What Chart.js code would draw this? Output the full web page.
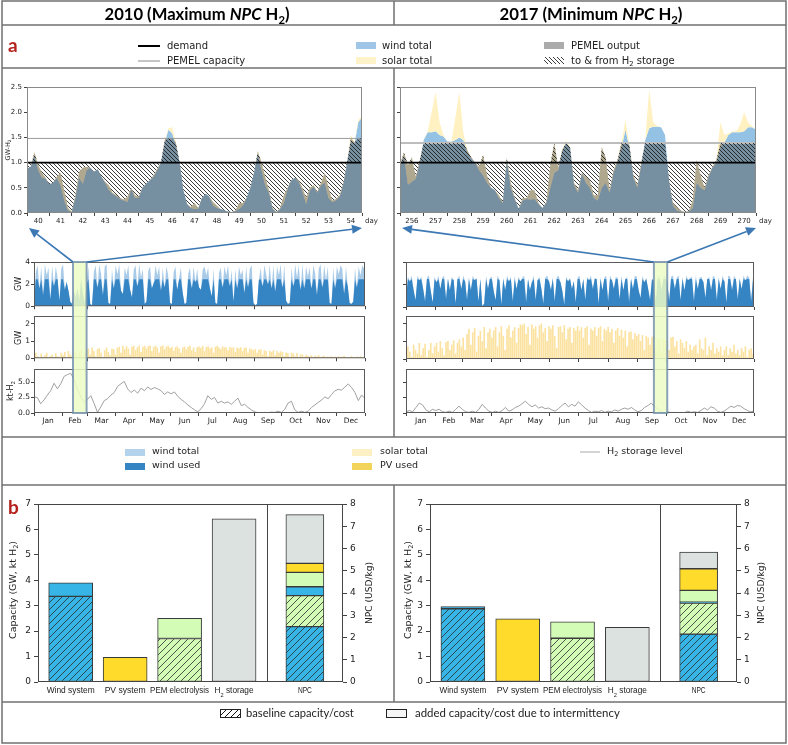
<!DOCTYPE html>
<html><head><meta charset="utf-8">
<script src="https://cdn.jsdelivr.net/npm/chart.js@4.4.1/dist/chart.umd.min.js"></script>
<style>
html,body{margin:0;padding:0;background:#fff;}
#wrap{position:relative;width:788px;height:745px;overflow:hidden;background:#fff;}
canvas{position:absolute;}
</style></head><body><div id="wrap"></div>
<script>
// ---------------- DATA ----------------
// zoom windows (4-hour steps, 15 days)
const zoomDayStart = [40, 256];
const zoomWind2010 = [0.88,0.92,1.15,0.85,0.7,0.68,0.57,0.6,0.7,0.55,
 0.25,0.05,0.02,0.3,0.7,0.58,0.85,0.9,0.82,0.87,
 0.72,0.6,0.45,0.38,0.33,0.28,0.25,0.22,0.48,0.3,
 0.3,0.5,0.58,0.65,0.72,0.85,1.0,1.4,1.65,1.58,
 1.35,1.0,0.45,0.18,0.1,0.08,0.08,0.3,0.38,0.32,
 0.15,0.1,0.08,0.05,0.03,0.02,0.04,0.08,0.15,0.3,
 0.5,0.8,1.18,0.85,0.55,0.4,0.08,0.02,0.08,0.2,
 0.48,0.65,0.7,0.62,0.42,0.18,0.45,0.52,0.4,0.55,
 0.6,0.3,0.22,0.25,0.32,0.58,1.0,1.42,1.38,1.8,1.9];
const zoomWindSolar2010 = [0.88,0.92,1.2,0.95,0.8,0.7,0.57,0.6,0.72,0.8,
 0.45,0.1,0.03,0.35,0.82,0.9,0.92,0.9,0.82,0.87,
 0.72,0.62,0.55,0.4,0.35,0.3,0.27,0.32,0.5,0.35,
 0.32,0.5,0.58,0.65,0.75,0.88,1.0,1.45,1.68,1.7,
 1.4,1.0,0.45,0.18,0.12,0.2,0.1,0.3,0.38,0.32,
 0.22,0.15,0.08,0.05,0.03,0.02,0.05,0.2,0.2,0.3,
 0.5,0.8,1.22,1.0,0.72,0.45,0.1,0.02,0.1,0.35,
 0.5,0.65,0.7,0.65,0.5,0.3,0.5,0.55,0.42,0.6,
 0.8,0.5,0.25,0.28,0.35,0.6,1.0,1.55,1.4,1.85,1.92];
const zoomWind2017 = [0.9,1.15,0.56,0.62,0.68,1.0,1.45,1.6,1.6,1.62,
 1.55,1.52,1.42,1.42,1.45,1.5,1.45,1.2,1.08,1.0,
 0.85,0.75,0.6,0.5,0.45,0.3,0.2,1.05,0.5,0.28,
 0.08,0.25,0.28,0.27,0.28,0.18,0.1,0.2,0.5,0.8,
 0.85,1.22,1.4,1.28,0.55,0.4,0.78,0.6,0.5,0.3,
 0.25,0.5,0.6,0.4,0.8,1.0,1.3,1.65,1.3,0.7,
 0.5,0.95,1.45,1.68,1.71,1.71,1.7,1.55,0.65,0.15,
 0.05,0.03,0.02,0.03,0.1,0.6,0.5,0.45,0.72,0.9,
 1.0,1.3,1.4,1.55,1.6,1.6,1.6,1.62,1.7,1.7,1.65];
const zoomWindSolar2017 = [0.95,1.2,0.95,1.1,0.72,1.05,1.45,1.62,2.0,2.4,
 1.8,1.55,1.42,1.43,1.9,2.4,1.6,1.25,1.1,1.0,
 0.92,1.15,0.75,0.5,0.45,0.35,0.22,1.1,0.6,0.3,
 0.08,0.3,0.3,0.45,0.45,0.2,0.1,0.22,0.95,1.39,
 0.9,1.25,1.45,1.3,0.6,0.45,0.8,0.72,0.65,0.35,
 0.35,1.3,1.1,0.45,0.85,1.05,1.4,1.85,1.35,0.75,
 0.55,1.0,1.45,2.45,1.8,1.72,1.7,1.55,0.65,0.2,
 0.12,0.05,0.02,0.04,0.25,1.05,0.75,0.5,0.75,0.92,
 1.05,1.8,1.55,1.58,1.62,1.62,1.75,2.0,1.8,1.72,1.65];
const demandLevel = 1.0;
const pemelCapacity = [1.48, 1.39];

// full year (2-day steps)
const windYear2010 = [0.3,3.1,3.7,1.6,3.6,1.0,3.8,2.8,3.5,0.6,
 3.7,1.8,3.6,2.6,0.5,3.4,3.8,1.5,2.2,1.4,
 0.4,0.2,1.4,0.8,1.6,0.5,2.6,1.1,0.3,2.0,
 3.6,0.2,0.1,3.1,3.7,1.7,3.8,2.9,1.0,3.6,
 3.8,0.3,0.2,3.4,1.6,3.7,2.9,3.8,1.4,1.1,
 3.5,2.8,3.7,1.5,0.8,3.3,3.7,1.8,3.8,2.6,
 3.4,0.2,0.4,3.2,3.6,1.6,2.1,3.7,2.8,3.6,
 1.4,3.5,1.7,3.6,2.8,0.3,0.2,3.1,3.6,1.5,
 2.5,3.5,1.2,0.2,0.3,2.9,3.5,1.6,3.6,2.2,
 3.4,1.7,1.5,3.3,3.6,2.8,3.5,1.6,0.9,3.4,
 0.3,0.2,3.0,3.5,1.7,3.6,2.8,3.7,1.8,3.3,
 0.4,3.4,1.6,3.6,2.8,3.3,1.2,3.6,1.7,3.4,
 3.7,0.3,0.1,0.2,2.4,3.5,1.8,3.7,2.9,2.0,
 3.8,1.6,3.7,1.3,3.6,2.8,3.8,1.7,3.7,0.5,
 0.2,0.3,3.5,1.8,3.8,2.6,3.7,1.5,3.8,1.6,
 3.6,2.7,3.5,1.6,3.7,3.0,1.0,3.4,3.8,1.7,
 3.7,2.4,3.6,0.3,0.2,3.5,1.6,3.6,2.9,3.7,
 3.4,1.1,3.6,1.8,0.3,0.2,0.4,3.5,1.7,3.6,
 2.8,3.7,3.4];
const windYear2017 = [0.8,2.7,2.3,2.8,1.5,0.6,2.8,2.4,2.7,1.6,
 0.5,2.6,2.8,1.4,0.4,2.7,2.2,2.8,1.6,2.6,
 2.8,0.7,2.6,1.5,2.7,2.4,0.3,2.5,2.8,1.6,
 2.8,2.3,0.6,2.7,1.5,2.8,2.4,2.6,0.5,2.5,
 0.1,0.3,2.8,1.6,2.6,2.7,1.4,0.6,2.8,2.4,
 0.2,2.6,1.5,2.8,2.3,2.7,0.5,2.8,1.6,2.7,
 2.3,2.6,2.8,0.4,2.5,1.5,2.2,2.8,0.6,2.4,
 2.7,1.6,0.3,2.6,2.8,2.3,1.5,2.7,0.5,2.6,
 2.8,2.2,1.4,0.2,2.7,2.3,2.6,1.6,2.3,0.4,
 2.6,2.8,1.5,2.5,0.6,2.7,2.4,2.8,1.6,2.6,
 2.5,0.3,2.7,1.5,2.6,2.8,0.5,2.8,2.4,1.6,
 2.7,2.6,0.7,2.8,1.5,2.5,2.7,0.4,2.6,1.6,
 2.8,2.7,1.5,0.8,2.8,2.2,2.6,1.6,0.6,2.5,
 2.3,0.4,2.6,2.8,1.5,2.7,2.8,2.3,0.5,2.7,
 2.8,1.6,2.6,2.8,0.6,2.7,1.5,2.8,2.4,2.6,
 2.7,0.5,2.8,1.6,2.6,2.7,2.2,0.8,2.5,2.7,
 1.5,2.8,2.6,0.6,2.7,1.6,2.8,2.3,0.4,2.8,
 2.7,1.5,2.8,2.5,0.7,2.6,1.6,2.8,2.4,2.8,
 2.6,0.5,2.7];
const windUsedLimit = [2.45, 2.5];
const solarYear2010 = [0.05,0.3,0.1,0.02,0.25,0.05,0.15,0.3,0.02,0.1,0.2,0.05,0.28,0.1,0.02,0.3,
 0.15,0.35,0.05,0.4,0.2,0.1,0.42,0.3,0.05,0.38,0.45,0.1,0.3,0.5,
 0.55,0.2,0.6,0.4,0.1,0.5,0.58,0.3,0.05,0.45,0.6,0.35,0.15,0.55,0.5,0.2,
 0.6,0.65,0.3,0.7,0.5,0.68,0.55,0.2,0.65,0.7,0.45,0.6,0.72,0.35,0.65,
 0.7,0.55,0.68,0.72,0.4,0.65,0.7,0.6,0.3,0.68,0.72,0.5,0.66,0.7,0.58,
 0.65,0.4,0.62,0.68,0.55,0.3,0.6,0.66,0.5,0.64,0.7,0.45,0.6,0.35,0.62,
 0.66,0.58,0.7,0.4,0.64,0.68,0.55,0.62,0.3,0.65,0.7,0.6,0.5,0.66,0.62,
 0.6,0.45,0.64,0.58,0.62,0.35,0.6,0.55,0.62,0.4,0.58,0.6,0.3,0.55,0.5,0.45,
 0.52,0.3,0.48,0.5,0.2,0.45,0.4,0.1,0.42,0.35,0.45,0.15,0.4,0.3,0.38,
 0.35,0.1,0.32,0.28,0.05,0.3,0.25,0.1,0.28,0.05,0.22,0.2,0.05,0.18,0.12,
 0.1,0.15,0.02,0.12,0.08,0.15,0.02,0.1,0.12,0.05,0.08,0.02,0.1,0.05,0.08,
 0.05,0.1,0.02,0.08,0.12,0.03,0.06,0.02,0.1,0.05,0.02,0.08,0.04,0.1,0.02,0.06];
const solarYear2017 = [0.2,0.7,0.4,0.1,0.8,0.5,0.3,0.9,0.2,0.6,0.85,0.1,0.5,0.9,0.3,0.7,
 0.9,0.4,1.0,0.6,0.2,0.95,1.0,0.5,0.8,1.05,0.3,0.9,1.1,0.7,
 1.2,0.5,1.4,1.7,0.8,1.5,1.75,0.4,1.3,1.6,1.0,1.8,0.6,1.5,1.7,1.2,
 1.6,1.8,0.7,1.5,1.85,1.3,0.5,1.7,1.9,1.2,1.6,1.8,0.9,1.75,1.95,
 1.9,2.0,1.4,1.8,0.8,1.95,1.7,1.85,1.2,1.9,2.0,1.5,1.75,1.0,1.85,
 1.7,1.9,1.3,0.6,1.8,1.85,1.5,1.9,1.1,1.7,1.8,0.9,1.75,1.6,1.85,
 1.6,1.8,1.2,1.75,1.85,0.8,1.7,1.6,1.8,1.3,1.75,1.85,1.0,1.7,1.6,
 1.8,1.5,1.7,0.9,1.6,1.75,1.3,1.65,1.2,1.6,0.7,1.5,1.55,1.1,1.45,1.3,
 1.4,1.0,1.35,0.5,1.3,1.2,0.8,1.25,1.3,0.6,1.2,1.1,0.4,1.15,1.0,
 1.1,0.5,1.2,1.25,0.7,1.0,0.3,1.1,0.9,0.6,1.0,0.4,0.8,0.5,0.7,
 0.8,0.3,1.1,0.6,0.5,1.2,0.2,0.7,0.5,0.9,0.3,0.6,0.4,0.7,0.2,
 0.5,0.7,0.2,0.6,0.4,0.8,0.3,0.5,0.2,0.6,0.4,0.7,0.1,0.5,0.6,0.3];
const storage2010 = [2.6,2.5,1.5,2.1,2.9,3.6,4.8,3.9,4.7,5.9,
 6.2,6.4,5.4,3.8,2.6,1.7,2.2,2.8,1.5,0.1,
 1.0,2.0,2.3,2.9,3.3,4.3,4.7,5.1,3.9,3.3,
 3.7,3.2,4.0,3.6,4.2,3.8,4.1,3.9,3.6,3.0,
 3.4,3.1,3.4,2.7,2.2,1.8,1.3,0.9,0.5,0.2,
 0.7,1.5,2.8,2.2,2.5,1.6,1.9,1.6,1.8,1.4,
 1.9,2.4,1.2,1.4,0.9,0.5,0.2,0.05,0.05,0.1,
 0.05,0.15,0.1,0.3,0.1,0.6,1.6,1.9,0.5,0.1,
 0.3,0.1,0.3,0.9,1.3,1.7,2.1,2.6,2.3,3.0,
 3.6,3.8,3.7,4.2,4.7,4.1,3.3,2.0,2.9,2.3];
const storage2017 = [0.2,0.4,0.2,0.9,1.6,1.3,0.5,0.2,0.6,0.4,
 0.6,0.2,0.1,0.3,0.1,0.6,1.1,0.6,0.2,0.1,
 0.3,0.1,0.6,1.4,0.8,0.3,0.1,0.3,0.1,0.4,
 0.9,0.3,0.5,0.9,1.1,1.5,1.9,1.4,1.0,1.3,
 0.8,1.0,0.7,0.8,0.5,0.3,0.7,1.2,1.6,1.0,
 1.4,1.1,1.8,1.3,0.8,0.4,0.1,0.3,0.2,0.4,
 0.1,0.3,0.2,0.5,0.3,0.6,0.8,0.6,0.9,0.5,
 0.2,0.4,0.9,1.2,1.6,1.0,0.7,0.2,0.1,0.2,
 0.05,0.1,0.05,0.1,0.05,0.3,0.1,0.2,0.1,0.4,
 0.8,0.5,1.0,0.8,0.3,0.1,0.3,0.7,1.1,0.9,
 1.2,1.1,0.7,0.4,0.2,0.3];
const highlightWindow = [[43, 58], [260, 274]];
const months = ['Jan','Feb','Mar','Apr','May','Jun','Jul','Aug','Sep','Oct','Nov','Dec'];
const monthStarts = [0,31,59,90,120,151,181,212,243,273,304,334,365];

// panel b
const capCategories = ['Wind system','PV system','PEM electrolysis','H|2| storage'];
const capBaseline2010 = [3.37, 0, 1.71, 0];
const capTotal2010 = [3.90, 0.97, 2.50, 6.42];
const capBaseline2017 = [2.88, 0, 1.72, 0];
const capTotal2017 = [2.97, 2.48, 2.37, 2.15];
const npcParts = ['wind baseline','PEM baseline','wind added','PEM added','PV','H2 storage'];
const npc2010 = [2.49, 1.39, 0.40, 0.65, 0.40, 2.19];
const npc2017 = [2.15, 1.40, 0.04, 0.53, 0.97, 0.75];
const capTicks = [0,1,2,3,4,5,6,7];
const npcTicks = [0,1,2,3,4,5,6,7,8];

// ---------------- HELPERS ----------------
const wrap = document.getElementById('wrap');
Chart.defaults.font.family = "'DejaVu Sans', sans-serif";
Chart.defaults.color = '#222';
function addCanvas(l,t,w,h){
  const c=document.createElement('canvas'); c.width=w; c.height=h;
  c.style.left=l+'px'; c.style.top=t+'px'; c.style.width=w+'px'; c.style.height=h+'px';
  wrap.appendChild(c); return c;
}
const pctx = document.createElement('canvas').getContext('2d');
function hatch(bg, fg, size, dir, lw){
  const c=document.createElement('canvas'); c.width=size; c.height=size;
  const x=c.getContext('2d');
  if(bg){x.fillStyle=bg; x.fillRect(0,0,size,size);}
  x.strokeStyle=fg; x.lineWidth=lw; x.beginPath();
  if(dir==='/'){ x.moveTo(-1,size+1); x.lineTo(size+1,-1); x.moveTo(-1,1); x.lineTo(1,-1); x.moveTo(size-1,size+1); x.lineTo(size+1,size-1); }
  else { x.moveTo(-1,-1); x.lineTo(size+1,size+1); x.moveTo(size-1,-1); x.lineTo(size+1,1); x.moveTo(-1,size-1); x.lineTo(1,size+1); }
  x.stroke();
  return pctx.createPattern(c,'repeat');
}
const AREA_HATCH = hatch(null, '#1a1a1a', 4, '\\', 0.85);
const sysColor = ['#36b5e6','#ffdb2c','#d3fcb6','#dce2df'];
const sysHatch = [hatch('#36b5e6','#2a2a2a',7,'/',0.8), null, hatch('#d3fcb6','#2a2a2a',7,'/',0.8), null];

const framePlugin = {id:'frame', afterDatasetsDraw(ch, a, o){
  if(!o || !o.color) return; const A=ch.chartArea, c=ch.ctx;
  c.save(); c.strokeStyle=o.color; c.lineWidth=o.width||1;
  c.strokeRect(A.left+0.5, A.top+0.5, A.right-A.left-1, A.bottom-A.top-1);
  if(o.sep!==undefined){ const px=Math.round(ch.scales.x.getPixelForValue(o.sep))+0.5; c.beginPath(); c.moveTo(px,A.top); c.lineTo(px,A.bottom); c.stroke(); }
  c.restore();
}};

// text with |subscript| and ~italic~ markers
function drawParts(c, text, x, y, o){
  const parts=[];
  text.split(/(\|[^|]*\||~[^~]*~)/).forEach(t=>{
    if(!t) return;
    if(t[0]==='|') parts.push({t:t.slice(1,-1), sub:true});
    else if(t[0]==='~') parts.push({t:t.slice(1,-1), it:true});
    else parts.push({t});
  });
  let size=o.size; const fam=o.family||'DejaVu Sans';
  const f=(p,s)=>(p.it?'italic ':'')+(o.bold?'bold ':'')+(p.sub?s*0.68:s)+'px "'+fam+'"';
  const meas=s=>{let w=0; parts.forEach(p=>{c.font=f(p,s); w+=c.measureText(p.t).width;}); return w;};
  let w=meas(size);
  if(o.fit && o.targetW){ size=size*o.targetW/w; w=meas(size); }
  let sx=1; if(o.squash && o.targetW) sx=o.targetW/w;
  c.save(); c.translate(x,y); if(o.rotate) c.rotate(o.rotate); c.scale(sx,1);
  const al=o.align||'left'; let cx= al==='center'?-w/2: al==='right'?-w:0;
  c.fillStyle=o.color||'#222'; c.textBaseline=o.baseline||'alphabetic'; c.textAlign='left';
  parts.forEach(p=>{ c.font=f(p,size); c.fillText(p.t, cx, p.sub? size*(o.subDy||0.28):0); cx+=c.measureText(p.t).width; });
  c.restore();
}
const barLabelPlugin = {id:'barLabels', afterDraw(ch, a, o){
  if(!o || !o.items) return; const c=ch.ctx, xs=ch.scales.x;
  o.items.forEach(it=>{ drawParts(c, it.t, xs.getPixelForValue(it.pos), ch.chartArea.bottom+11, {size:9, family:'Liberation Sans', align:'center', squash:true, targetW:it.w, subDy:0.45, color:'#222'}); });
}};

function chartAt(rect, plot, config){
  const cv=addCanvas(rect.l, rect.t, rect.w, rect.h);
  const padTop=plot.t-rect.t, xH=rect.t+rect.h-plot.b, yW=plot.l-rect.l, rW=rect.l+rect.w-plot.r;
  const sc=config.options.scales;
  sc.x.afterFit=s=>{s.height=xH;};
  sc.y.afterFit=s=>{s.width=yW;};
  let right=rW;
  if(sc.y2){ sc.y2.afterFit=s=>{s.width=rW;}; right=0; }
  config.options.layout={padding:{top:padTop,right:right,left:0,bottom:0}};
  config.options.responsive=false; config.options.animation=false; config.options.devicePixelRatio=1;
  config.options.plugins=Object.assign({legend:{display:false}, tooltip:{enabled:false}}, config.options.plugins||{});
  config.plugins=[framePlugin, barLabelPlugin];
  const ch=new Chart(cv, config); ch._rect=rect; return ch;
}
function customTicks(bounds, mids, labels, showLabels, fontSize){
  return {
    type:'linear', min:bounds[0], max:bounds[bounds.length-1], offset:false,
    afterBuildTicks(s){ s.ticks = bounds.concat(mids).sort((a,b)=>a-b).map(v=>({value:v})); },
    ticks:{display:showLabels, autoSkip:false, maxRotation:0, padding:1, font:{size:fontSize}, color:'#222',
      callback:(v)=>{ const i=mids.indexOf(v); return i>=0?String(labels[i]):''; }},
    grid:{display:true, drawOnChartArea:false, drawTicks:true, tickLength:3, offset:false,
      color:(c)=> (c.tick && bounds.includes(c.tick.value)) ? '#444' : 'rgba(0,0,0,0)'},
    border:{display:false}
  };
}
function yAxis(min,max,ticks,showLabels,fmt,size,pad,tl){
  return {type:'linear', min, max,
    afterBuildTicks(s){ s.ticks=ticks.map(v=>({value:v})); },
    ticks:{display:showLabels, padding:pad===undefined?2:pad, font:{size:size||7, lineHeight:1}, color:'#222', callback:v=>fmt?fmt(v):String(v)},
    grid:{display:true, drawOnChartArea:false, drawTicks:true, tickLength:tl||3, color:'#444'},
    border:{display:false}};
}

// ---------------- ZOOM CHARTS ----------------
const dayBounds=[...Array(16).keys()];
const dayMids=dayBounds.slice(0,15).map(v=>v+0.5);
function zoomChart(k, rect, plot){
  const wind=[zoomWind2010,zoomWind2017][k], top=[zoomWindSolar2010,zoomWindSolar2017][k], cap=pemelCapacity[k];
  const pts=a=>a.map((v,i)=>({x:i/6, y:v}));
  const out=top.map(v=>Math.min(v,cap));
  const dem=wind.map(()=>demandLevel);
  const labels=dayMids.map((_,i)=>zoomDayStart[k]+i);
  return chartAt(rect, plot, {type:'line', data:{datasets:[
    {data:pts(wind), fill:'origin', backgroundColor:'#93c2e4', borderWidth:0, pointRadius:0, order:6},
    {data:pts(top), fill:'-1', backgroundColor:'#fff1c2', borderWidth:0, pointRadius:0, order:5},
    {data:pts(out), fill:'origin', backgroundColor:'rgba(85,85,85,0.47)', borderWidth:0, pointRadius:0, order:4},
    {data:pts(dem), fill:{target:'-1', above:AREA_HATCH, below:AREA_HATCH}, borderColor:'#000', borderWidth:1.6, pointRadius:0, order:1},
    {data:[{x:0,y:cap},{x:15,y:cap}], fill:false, borderColor:k?'#bdbdbd':'#9a9a9a', borderWidth:k?2:1, pointRadius:0, order:3}
  ]}, options:{scales:{
    x:customTicks(dayBounds, dayMids, labels, true, 7),
    y:yAxis(0,2.5,[0,0.5,1,1.5,2,2.5], k===0, v=>v.toFixed(1), 7)
  }, plugins:{frame:{color:'#8a8a8a'}}}});
}
const zL=zoomChart(0,{l:4,t:78,w:386,h:152},{l:27,t:87,r:362,b:213});
const zR=zoomChart(1,{l:396,t:78,w:390,h:152},{l:400,t:87,r:756,b:213});

// ---------------- YEAR CHARTS ----------------
const monthMids=months.map((_,i)=>(monthStarts[i]+monthStarts[i+1])/2);
function yearCharts(k, l, w, plotL, plotR){
  const showY=(k===0);
  const wind=[windYear2010,windYear2017][k], solar=[solarYear2010,solarYear2017][k], st=[storage2010,storage2017][k];
  const lim=windUsedLimit[k];
  const wpts=a=>a.map((v,i)=>({x:i*2, y:v}));
  const cW=chartAt({l,t:256,w,h:55},{l:plotL,t:262,r:plotR,b:307},{type:'line', data:{datasets:[
    {data:wpts(wind), fill:'origin', backgroundColor:'#a9cbe8', borderWidth:0, pointRadius:0, order:2},
    {data:wpts(wind.map(v=>Math.min(v,lim))), fill:'origin', backgroundColor:'#3585c5', borderWidth:0, pointRadius:0, order:1}
  ]}, options:{scales:{x:customTicks(monthStarts, monthMids, months, false, 7.5), y:yAxis(0,4,[0,2,4],showY,null,7.5,1)}, plugins:{frame:{color:'#5a5a5a'}}}});
  const cS=chartAt({l,t:311,w,h:52},{l:plotL,t:316,r:plotR,b:359},{type:'bar', data:{datasets:[
    {data:wpts(solar), backgroundColor:'#fbe2a0', borderWidth:0, barThickness:1, grouped:false}
  ]}, options:{scales:{x:customTicks(monthStarts, monthMids, months, false, 7.5), y:yAxis(0,2.45,[0,1,2],showY,null,7.5,1)}, plugins:{frame:{color:'#5a5a5a'}}}});
  const n=st.length;
  const cT=chartAt({l,t:363,w,h:66},{l:plotL,t:369,r:plotR,b:413},{type:'line', data:{datasets:[
    {data:st.map((v,i)=>({x:i*365/(n-1), y:v})), fill:false, borderColor:'#a0a0a0', borderWidth:1, pointRadius:0}
  ]}, options:{scales:{x:customTicks(monthStarts, monthMids, months, true, 7.5), y:yAxis(0,7.1,[0,2.5,5],showY,v=>v.toFixed(1),7.5,1)}, plugins:{frame:{color:'#5a5a5a'}}}});
  return [cW,cS,cT];
}
const yL=yearCharts(0,4,384,34,365);
const yR=yearCharts(1,396,362,406,754);

// ---------------- BAR CHARTS ----------------
const capPos=[0,1,2,3], npcPos=4.3, sepPos=3.6;
function barChart(k, rect, plot){
  const base=[capBaseline2010,capBaseline2017][k], total=[capTotal2010,capTotal2017][k], npc=[npc2010,npc2017][k];
  const dB=[], bgB=[], dA=[], bgA=[];
  capPos.forEach((p,i)=>{ if(base[i]>0){ dB.push({x:p,y:[0,base[i]]}); bgB.push(sysHatch[i]); } dA.push({x:p,y:[base[i],total[i]]}); bgA.push(sysColor[i]); });
  const npcFill=[sysHatch[0], sysHatch[2], sysColor[0], sysColor[2], sysColor[1], sysColor[3]];
  let cum=0; const dN=npc.map(v=>{ const d={x:npcPos,y:[cum,cum+v]}; cum+=v; return d; });
  const common={borderColor:'#3a3a3a', borderWidth:1, borderSkipped:false, grouped:false};
  const labW=k===0?[48,41,59,39,14]:[47,42,59,39,14];
  return chartAt(rect, plot, {type:'bar', data:{datasets:[
    Object.assign({data:dB, backgroundColor:bgB, yAxisID:'y', barThickness:44}, common),
    Object.assign({data:dA, backgroundColor:bgA, yAxisID:'y', barThickness:44}, common),
    Object.assign({data:dN, backgroundColor:npcFill, yAxisID:'y2', barThickness:38}, common)
  ]}, options:{scales:{
    x:{type:'linear', min:-0.6, max:5.0, offset:false, ticks:{display:false}, grid:{display:false, offset:false}, border:{display:false}},
    y:Object.assign(yAxis(0,7,capTicks,true,null,9,3,4), {position:'left'}),
    y2:Object.assign(yAxis(0,8,npcTicks,true,null,9,3,4), {position:'right'})
  }, plugins:{frame:{color:'#444', sep:sepPos}, barLabels:{items:capCategories.map((t,i)=>({t, pos:capPos[i], w:labW[i]})).concat([{t:'NPC', pos:npcPos, w:labW[4]}])}}}});
}
const bL=barChart(0,{l:4,t:494,w:386,h:210},{l:38,t:504,r:343,b:682});
const bR=barChart(1,{l:396,t:494,w:390,h:210},{l:430,t:504,r:737,b:682});

// ---------------- OVERLAY ----------------
const O=addCanvas(0,0,788,745); O.style.zIndex=10; const ctx=O.getContext('2d');
function line(x1,y1,x2,y2,col,lw){ctx.strokeStyle=col; ctx.lineWidth=lw; ctx.beginPath(); ctx.moveTo(x1,y1); ctx.lineTo(x2,y2); ctx.stroke();}
function txt(t,x,y,size,fam,align){ drawParts(ctx,t,x,y,{size,family:fam||'DejaVu Sans',align:align||'left',baseline:'middle',color:'#222'}); }

// band and arrows
function pageX(ch,v){ return ch._rect.l + ch.scales.x.getPixelForValue(v); }
function pageY(ch,v){ return ch._rect.t + v; }
function arrow(x1,y1,x2,y2){
  const col='#3b78b4'; const a=Math.atan2(y2-y1,x2-x1), L=10, W=4.5;
  const bx=x2-L*Math.cos(a), by=y2-L*Math.sin(a);
  line(x1,y1,bx,by,col,1.6);
  ctx.fillStyle=col; ctx.beginPath(); ctx.moveTo(x2,y2);
  ctx.lineTo(bx+W*Math.sin(a), by-W*Math.cos(a)); ctx.lineTo(bx-W*Math.sin(a), by+W*Math.cos(a)); ctx.closePath(); ctx.fill();
}
[[yL,zL,0],[yR,zR,1]].forEach(([ys,z,k])=>{
  const x1=pageX(ys[0],highlightWindow[k][0]), x2=pageX(ys[0],highlightWindow[k][1]);
  const t=pageY(ys[0],ys[0].chartArea.top), b=pageY(ys[2],ys[2].chartArea.bottom);
  ctx.fillStyle='rgba(236,251,196,0.85)'; ctx.fillRect(x1,t,x2-x1,b-t);
  ctx.strokeStyle='rgba(110,140,172,0.8)'; ctx.lineWidth=2; ctx.strokeRect(x1,t,x2-x1,b-t);
  const zl=z._rect.l+z.chartArea.left, zr=z._rect.l+z.chartArea.right, zb=z._rect.t+z.chartArea.bottom+15;
  arrow(x1,t,zl+2,zb); arrow(x2,t,zr,zb);
});

// borders
const BC='#707070';
ctx.strokeStyle=BC; ctx.lineWidth=1.5; ctx.strokeRect(2,1,784,742);
[25,68,437,485,702].forEach(y=>line(2,y,786,y,BC,1.5));
[[1,25],[68,437],[485,702]].forEach(([a,b])=>line(394,a,394,b,BC,1.5));

// headers
drawParts(ctx,'2010 (Maximum ~NPC~ H|2|)',197,20,{size:17,family:'Lato',bold:true,align:'center',fit:true,targetW:185,color:'#000',subDy:0.25});
drawParts(ctx,'2017 (Minimum ~NPC~ H|2|)',591,20,{size:17,family:'Lato',bold:true,align:'center',fit:true,targetW:183,color:'#000',subDy:0.25});
drawParts(ctx,'a',8,52,{size:19,family:'Lato',bold:true,color:'#b3221c'});
drawParts(ctx,'b',8,514,{size:19,family:'Lato',bold:true,color:'#b3221c'});

// top legend
line(138,46,160,46,'#000',2); txt('demand',167,46,10);
line(138,61,160,61,'#8a8a8a',1); txt('PEMEL capacity',167,61,10);
ctx.fillStyle='#9fc6e6'; ctx.fillRect(356,42,20,7); txt('wind total',382,46,10);
ctx.fillStyle='#fdf2c8'; ctx.fillRect(356,57,20,7); txt('solar total',382,61,10);
ctx.fillStyle='#ababab'; ctx.fillRect(544,42,20,7); txt('PEMEL output',571,46,10);
ctx.fillStyle=AREA_HATCH; ctx.fillRect(544,57,20,7); txt('to & from H|2| storage',571,61,10);

// middle legend
ctx.fillStyle='#b3d3ec'; ctx.fillRect(125,449,20,7); txt('wind total',152,452,9.5);
ctx.fillStyle='#3585c5'; ctx.fillRect(125,463,20,7); txt('wind used',152,466,9.5);
ctx.fillStyle='#fdf0c4'; ctx.fillRect(352,449,20,7); txt('solar total',380,452,9.5);
ctx.fillStyle='#f2d45a'; ctx.fillRect(352,463,20,7); txt('PV used',380,466,9.5);
line(580,452,600,452,'#aaaaaa',1); txt('H|2| storage level',607,452,9.5);

// bottom legend
const lgH=hatch('#ffffff','#111',6,'/',1);
ctx.fillStyle=lgH; ctx.fillRect(220,709,20,8); ctx.strokeStyle='#222'; ctx.lineWidth=1; ctx.strokeRect(220.5,709.5,20,8);
drawParts(ctx,'baseline capacity/cost',246,713,{size:12,family:'Lato',baseline:'middle',fit:true,targetW:108,color:'#222'});
ctx.fillStyle='#f5f5f5'; ctx.fillRect(386,709,20,8); ctx.strokeRect(386.5,709.5,20,8);
drawParts(ctx,'added capacity/cost due to intermittency',415,713,{size:12,family:'Lato',baseline:'middle',fit:true,targetW:205,color:'#222'});

// axis titles
const R=-Math.PI/2;
drawParts(ctx,'GW-H|2|',8,150,{size:6.5,align:'center',baseline:'middle',rotate:R});
drawParts(ctx,'GW',19,284,{size:8,align:'center',baseline:'middle',rotate:R});
drawParts(ctx,'GW',19,338,{size:8,align:'center',baseline:'middle',rotate:R});
drawParts(ctx,'kt-H|2|',11,391,{size:8,align:'center',baseline:'middle',rotate:R});
drawParts(ctx,'day',365,221,{size:7,baseline:'middle'});
drawParts(ctx,'day',759,221,{size:7,baseline:'middle'});
[[14,370],[409,762]].forEach(([a,b])=>{
  drawParts(ctx,'Capacity (GW, kt H|2|)',a,590,{size:9.5,align:'center',baseline:'middle',rotate:R,fit:true,targetW:98});
  drawParts(ctx,'NPC (USD/kg)',b,593,{size:9.5,align:'center',baseline:'middle',rotate:R,fit:true,targetW:62});
});
</script></body></html>
